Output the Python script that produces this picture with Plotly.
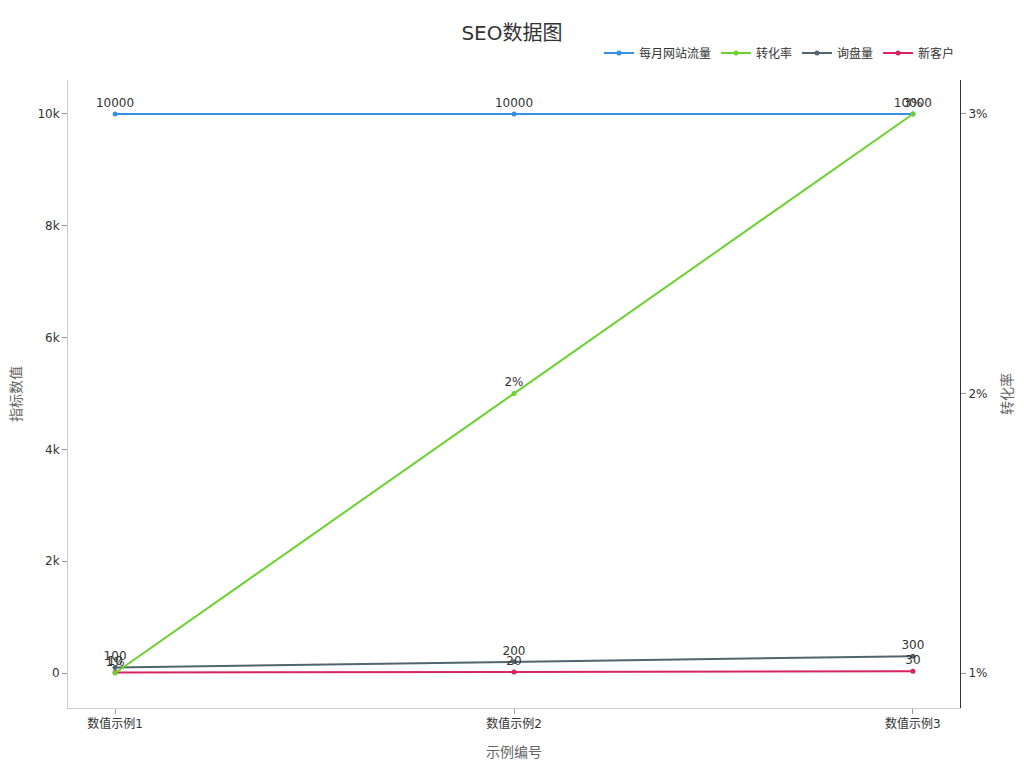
import plotly.graph_objects as go

# data
categories = ["数值示例1", "数值示例2", "数值示例3"]
traffic = [10000, 10000, 10000]
conversion = [0.01, 0.02, 0.03]
inquiries = [100, 200, 300]
new_customers = [10, 20, 30]

left_ticks = [0, 2000, 4000, 6000, 8000, 10000]
right_ticks = [0.01, 0.02, 0.03]

FONT = "DejaVu Sans, Noto Sans CJK SC, sans-serif"

fig = go.Figure()


def add_line(y, name, color, axis="y", text=None):
    fig.add_trace(go.Scatter(
        x=categories,
        y=y,
        name=name,
        yaxis=axis,
        mode="lines+markers+text",
        text=text if text is not None else [str(v) for v in y],
        textposition="top center",
        textfont=dict(size=12, color="#333333"),
        line=dict(color=color, width=2),
        marker=dict(size=5, color=color),
    ))


add_line(traffic, "每月网站流量", "#3590e6")
add_line(conversion, "转化率", "#6cd12f", axis="y2",
         text=[f"{v * 100:.0f}%" for v in conversion])
add_line(inquiries, "询盘量", "#50656f")
add_line(new_customers, "新客户", "#d6245f")

fig.update_layout(
    title=dict(text="SEO数据图", x=0.496, xanchor="center", y=0.967, yanchor="middle",
               font=dict(size=20, color="#333333")),
    font=dict(family=FONT, size=12, color="#333333"),
    paper_bgcolor="white",
    plot_bgcolor="white",
    width=1016,
    height=760,
    margin=dict(l=60, r=64, t=72, b=60),
    showlegend=True,
    legend=dict(orientation="h", x=1.0, xanchor="right", y=1.02, yanchor="bottom",
                font=dict(size=12, color="#333333"), bgcolor="rgba(0,0,0,0)"),
    xaxis=dict(
        title=dict(text="示例编号", font=dict(size=14, color="#666666"), standoff=16),
        automargin=False,
        range=[-0.118, 2.118],
        showgrid=False,
        showline=True, linecolor="#cccccc", linewidth=1,
        ticks="outside", ticklen=5, tickcolor="#999999",
        zeroline=False,
    ),
    yaxis=dict(
        title=dict(text="指标数值", font=dict(size=14, color="#666666")),
        automargin=False,
        range=[-626, 10608],
        tickvals=left_ticks,
        tickformat="~s",
        showgrid=False,
        showline=True, linecolor="#cccccc", linewidth=1,
        ticks="outside", ticklen=5, tickcolor="#999999",
        zeroline=False,
    ),
    yaxis2=dict(
        title=dict(text="转化率", font=dict(size=14, color="#666666")),
        automargin=False,
        overlaying="y",
        side="right",
        range=[0.008748, 0.031216],
        tickvals=right_ticks,
        tickformat=".0%",
        showgrid=False,
        showline=True, linecolor="#333333", linewidth=1,
        ticks="outside", ticklen=5, tickcolor="#999999",
        zeroline=False,
    ),
)

fig.write_html("out.html")
